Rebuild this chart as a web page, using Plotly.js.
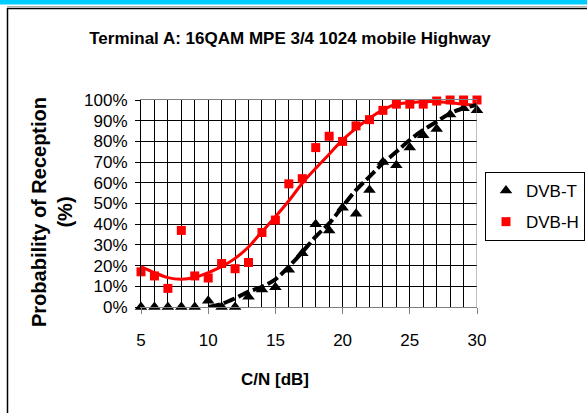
<!DOCTYPE html>
<html>
<head>
<meta charset="utf-8">
<script src="https://cdn.plot.ly/plotly-3.0.1.min.js"></script>
<style>html,body{margin:0;padding:0;background:#fff;}#chart{width:587px;height:413px;}</style>
</head>
<body>
<div id="chart"></div>
<script>
// C/N values [dB]
const cn = [5,6,7,8,9,10,11,12,13,14,15,16,17,18,19,20,21,22,23,24,25,26,27,28,29,30];
// Probability of reception [%]
const dvbT = [0,0,0,0,0,3,0,0,5,8.5,9.5,18,26,40,37,48,45,56.5,70,68.5,77,83,86,93,96,95];
const dvbH = [17,15,9,37,15,14,21,18.5,21.5,36,42,59.5,62,77,82.5,80,87.5,90.5,95,98,98,98,99.5,100,100,100];
// trend lines
const trendHx = [5,6,7,8,9,10,11,12,13,14,15,16,17,18,19,20,21,22,23,24,25,26,27,28,29,30];
const trendH = [19.5,16.6,14.2,13.4,14.3,16.6,19.5,23.5,29,36.4,43.6,51.3,59.8,67,73.8,80.7,86.3,91.2,95.2,98,98.7,99.2,99.2,98.7,98,97.5];
const trendTx = [10,11,12,13,14,15,16,17,18,19,20,21,22,23,24,25,26,27,28,29,30];
const trendT = [0,1.5,4.2,7.4,9.8,13.4,19.5,26.5,34,40.4,48.5,56.5,63,69.4,75,80.7,85.5,89.5,93.6,96,97.6];
const xTicks = [5,10,15,20,25,30];
const titleText = 'Terminal A: 16QAM MPE 3/4 1024 mobile Highway';
const xTitle = 'C/N [dB]';
const yTitle = 'Probability of Reception<br>(%)';

const W = 587, H = 413, L = 141, R = 477, T = 100, B = 307;
const px = p => (p - L) / (R - L);
const py = p => (B - p) / (B - T);
const FONT = 'Liberation Sans, Arial, sans-serif';
const pct = a => a.map(v => v / 100);

const traces = [
  {x: cn, y: pct(dvbT), type: 'scatter', mode: 'markers', name: 'DVB-T', legendgroup: 'a',
   marker: {symbol: 'triangle-up', color: '#000', size: 11}, cliponaxis: false},
  {x: cn, y: pct(dvbH), type: 'scatter', mode: 'markers', name: 'DVB-H', legendgroup: 'b',
   marker: {symbol: 'square', color: '#ff0000', size: 9}, cliponaxis: false},
  {x: trendHx, y: pct(trendH), type: 'scatter', mode: 'lines', showlegend: false,
   line: {color: '#ff0000', width: 3, shape: 'spline'}, hoverinfo: 'skip'},
  {x: trendTx, y: pct(trendT), type: 'scatter', mode: 'lines', showlegend: false,
   line: {color: '#000', width: 4, shape: 'spline', dash: '12px,4px'}, hoverinfo: 'skip'}
];

const layout = {
  width: W, height: H,
  margin: {l: L, r: W - R, t: T, b: H - B, pad: 0, autoexpand: false},
  paper_bgcolor: '#fff', plot_bgcolor: '#fff',
  font: {family: FONT, color: '#000', size: 17},
  title: {text: '<b>' + titleText + '</b>', x: 290 / W, xanchor: 'center', y: 1 - 38 / H, yanchor: 'middle',
          font: {family: FONT, size: 17, color: '#000'}},
  showlegend: true,
  legend: {x: px(485), y: py(172), xanchor: 'left', yanchor: 'top', bgcolor: '#fff',
           bordercolor: '#000', borderwidth: 1, font: {family: FONT, size: 17, color: '#000'},
           traceorder: 'grouped', tracegroupgap: 6},
  xaxis: {range: [5, 30], tickvals: xTicks, ticks: 'outside', ticklen: 6, tickcolor: '#808080',
          showline: true, linecolor: '#808080', linewidth: 1, mirror: true,
          showgrid: true, gridcolor: '#000', gridwidth: 1, zeroline: false,
          minor: {dtick: 1, tick0: 5, showgrid: true, gridcolor: '#000', gridwidth: 1, ticks: ''},
          ticklabelstandoff: 12, tickfont: {family: FONT, size: 17}, fixedrange: true},
  yaxis: {range: [0, 1], dtick: 0.1, tick0: 0, tickformat: '.0%', ticks: 'outside', ticklen: 5, tickcolor: '#000',
          showline: true, linecolor: '#000', linewidth: 1, mirror: false,
          showgrid: true, gridcolor: '#000', gridwidth: 1, zeroline: false,
          ticklabelstandoff: 4, tickfont: {family: FONT, size: 17}, fixedrange: true},
  shapes: [
    {type: 'rect', xref: 'paper', yref: 'paper', x0: px(0), x1: px(W), y0: py(0), y1: py(4.5),
     fillcolor: '#00ccff', line: {width: 0}, layer: 'below'},
    {type: 'line', xref: 'paper', yref: 'paper', x0: px(7), x1: px(W), y0: py(6.5), y1: py(6.5),
     line: {color: '#b0b0b0', width: 1}},
    {type: 'line', xref: 'paper', yref: 'paper', x0: px(7), x1: px(W), y0: py(8.5), y1: py(8.5),
     line: {color: '#000', width: 1.5}},
    {type: 'line', xref: 'paper', yref: 'paper', x0: px(7.5), x1: px(7.5), y0: py(8), y1: py(H),
     line: {color: '#000', width: 1.5}},
    {type: 'line', xref: 'x', yref: 'paper', x0: 30, x1: 30, y0: 0, y1: 1,
     line: {color: '#808080', width: 1}}
  ],
  annotations: [
    {text: '<b>' + xTitle + '</b>', xref: 'paper', yref: 'paper', x: px(275), y: py(379),
     xanchor: 'center', yanchor: 'middle', showarrow: false, font: {family: FONT, size: 17, color: '#000'}},
    {text: '<b>' + yTitle + '</b>', xref: 'paper', yref: 'paper', x: px(52), y: py(212),
     xanchor: 'center', yanchor: 'middle', textangle: -90, showarrow: false,
     font: {family: FONT, size: 20, color: '#000'}}
  ]
};

Plotly.newPlot('chart', traces, layout, {displayModeBar: false, staticPlot: true});
</script>
</body>
</html>
